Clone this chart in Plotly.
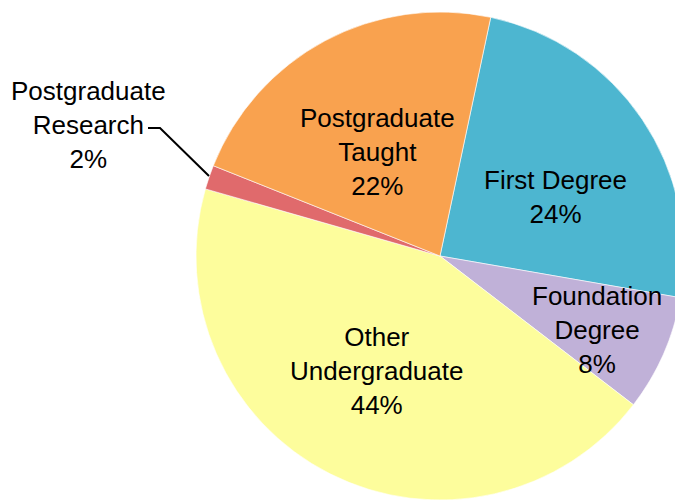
import plotly.graph_objects as go

labels = ["First Degree", "Foundation Degree", "Other Undergraduate", "Postgraduate Research", "Postgraduate Taught"]
display = ["First Degree", "Foundation<br>Degree", "Other<br>Undergraduate", "Postgraduate<br>Research", "Postgraduate<br>Taught"]
values = [24.4, 7.7, 44.0, 1.6, 22.3]
colors = ["#4DB6D0", "#C0B1D8", "#FDFD9C", "#E06A6C", "#F9A24F"]

W, H = 690, 502
FONT = "Liberation Sans, Arial"

fig = go.Figure(go.Pie(
    labels=labels,
    values=values,
    textinfo="none",
    marker=dict(colors=colors, line=dict(color="rgba(255,255,255,0.6)", width=1)),
    sort=False,
    direction="clockwise",
    rotation=12,
    domain=dict(x=[196 / W, 684 / W], y=[2 / H, 490 / H]),
    showlegend=False,
    hoverinfo="label+percent",
))

total = sum(values)
label_pos = {
    "First Degree": (555, 197),
    "Foundation Degree": (597, 330),
    "Other Undergraduate": (376, 371),
    "Postgraduate Research": (88, 125),
    "Postgraduate Taught": (378, 152),
}
for name, (px, py) in label_pos.items():
    i = labels.index(name)
    pct = values[i] / total * 100
    fig.add_annotation(
        x=px / W, y=1 - py / H, xref="paper", yref="paper",
        xanchor="center", yanchor="middle",
        text=f"{display[i]}<br>{pct:.0f}%", showarrow=False,
        font=dict(family=FONT, size=26, color="#000000"),
        align="center",
    )

fig.add_shape(
    type="path", xref="paper", yref="paper",
    path=f"M {148/W},{1-128/H} L {160/W},{1-128/H} L {209/W},{1-176/H}",
    line=dict(color="#000000", width=2),
)

fig.update_layout(
    width=W, height=H,
    margin=dict(l=0, r=0, t=0, b=0),
    paper_bgcolor="#FFFFFF",
    plot_bgcolor="#FFFFFF",
)

fig.write_html("out.html", config={"displayModeBar": False},
               post_script="document.body.style.margin='0';document.body.style.overflow='hidden';")
